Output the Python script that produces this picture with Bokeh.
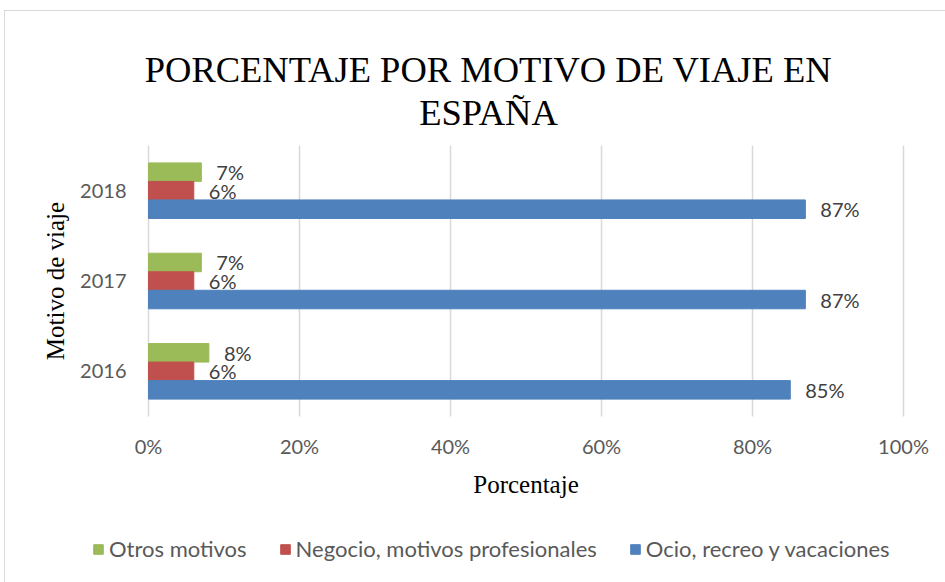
from bokeh.plotting import figure
from bokeh.models import (ColumnDataSource, Range1d, Legend, LegendItem, LabelSet, Label,
                          LinearAxis, NumeralTickFormatter, FixedTicker)
from bokeh.core.properties import value
from bokeh.embed import file_html
from bokeh.resources import INLINE

years = ["2016", "2017", "2018"]
otros = [8, 7, 7]
negocio = [6, 6, 6]
ocio = [85, 87, 87]
series_names = ["Otros motivos", "Negocio, motivos profesionales", "Ocio, recreo y vacaciones"]
colors = ["#9bbb59", "#c0504d", "#4f81bd"]
x_ticks = [0, 20, 40, 60, 80, 100]
title_lines = ["PORCENTAJE POR MOTIVO DE VIAJE EN", "ESPAÑA"]

n = len(years)
pos = [i + 0.5 for i in range(n)]          # category centres
bh = 0.205
keys = ["otros", "negocio", "ocio"]
offsets = [bh, 0, -bh]

data = dict(pos=pos)
for k, vals in zip(keys, [otros, negocio, ocio]):
    data[k] = [v / 100 for v in vals]
    data[k + "_lbl"] = [f"{v}%" for v in vals]
for k, off in zip(keys, offsets):
    data[k + "_y"] = [q + off for q in pos]
src = ColumnDataSource(data)

# whole canvas is the frame; plot area is x in [0, 1], y in [0, n]
p = figure(width=940, height=571, output_backend="svg", toolbar_location=None,
           x_range=Range1d(-0.1894, 1.0556), y_range=Range1d(-1.8377, 4.4836),
           x_axis_type=None, y_axis_type=None, min_border=0, title=None,
           margin=(11, 0, 0, 5), styles={"outline": "1px solid #d9d9d9"})
p.grid.visible = False
p.outline_line_color = None

# vertical gridlines from the tick values, limited to the plot area
gx = [v / 100 for v in x_ticks]
p.segment(x0=gx, x1=gx, y0=[0] * len(gx), y1=[n] * len(gx),
          line_color="#d9d9d9", line_width=1.5)

renderers = []
for k, c in zip(keys, colors):
    r = p.hbar(y=k + "_y", right=k, left=0, height=bh, source=src,
               fill_color=c, line_color=c)
    renderers.append(r)
    p.add_layout(LabelSet(x=k, y=k + "_y", text=k + "_lbl", source=src,
                          x_offset=15, text_align="left", text_baseline="middle",
                          text_font=value("Lato"), text_font_size=value("20px"),
                          text_color="#404040"))

xaxis = LinearAxis(fixed_location=0, bounds=(0, 1),
                   ticker=FixedTicker(ticks=gx), formatter=NumeralTickFormatter(format="0%"),
                   axis_label="Porcentaje")
yaxis = LinearAxis(fixed_location=0, bounds=(0, n),
                   ticker=FixedTicker(ticks=pos),
                   major_label_overrides={q: y for q, y in zip(pos, years)},
                   axis_label="Motivo de viaje")
for ax in (xaxis, yaxis):
    ax.axis_line_color = None
    ax.major_tick_line_color = None
    ax.minor_tick_line_color = None
    ax.major_tick_out = 0
    ax.major_tick_in = 0
    ax.minor_tick_out = 0
    ax.major_label_text_font = "Lato"
    ax.major_label_text_font_size = "20px"
    ax.major_label_text_color = "#595959"
    ax.axis_label_text_font = "Liberation Serif"
    ax.axis_label_text_font_size = "25px"
    ax.axis_label_text_font_style = "normal"
    ax.axis_label_text_color = "#000000"
xaxis.major_label_standoff = 17
yaxis.major_label_standoff = 22
xaxis.axis_label_standoff = 10
yaxis.axis_label_standoff = 8
p.add_layout(xaxis, "below")
p.add_layout(yaxis, "left")

# title, two centred lines above the plot area
for txt, yb in zip(title_lines, [3.8415, 3.3654]):
    p.add_layout(Label(x=0.4503, y=yb, text=txt, text_align="center", text_baseline="alphabetic",
                       text_font="Liberation Serif", text_font_size="36.5px", text_color="#000000"))

legend = Legend(items=[LegendItem(label=s, renderers=[r]) for s, r in zip(series_names, renderers)],
                orientation="horizontal", location=(87, 20),
                label_text_font="Lato", label_text_font_size="22px", label_text_color="#595959",
                glyph_width=12, glyph_height=12, spacing=32, border_line_color=None,
                background_fill_alpha=0, padding=0, margin=0, label_standoff=5)
p.add_layout(legend)

open("out.html", "w").write(file_html(p, INLINE))
